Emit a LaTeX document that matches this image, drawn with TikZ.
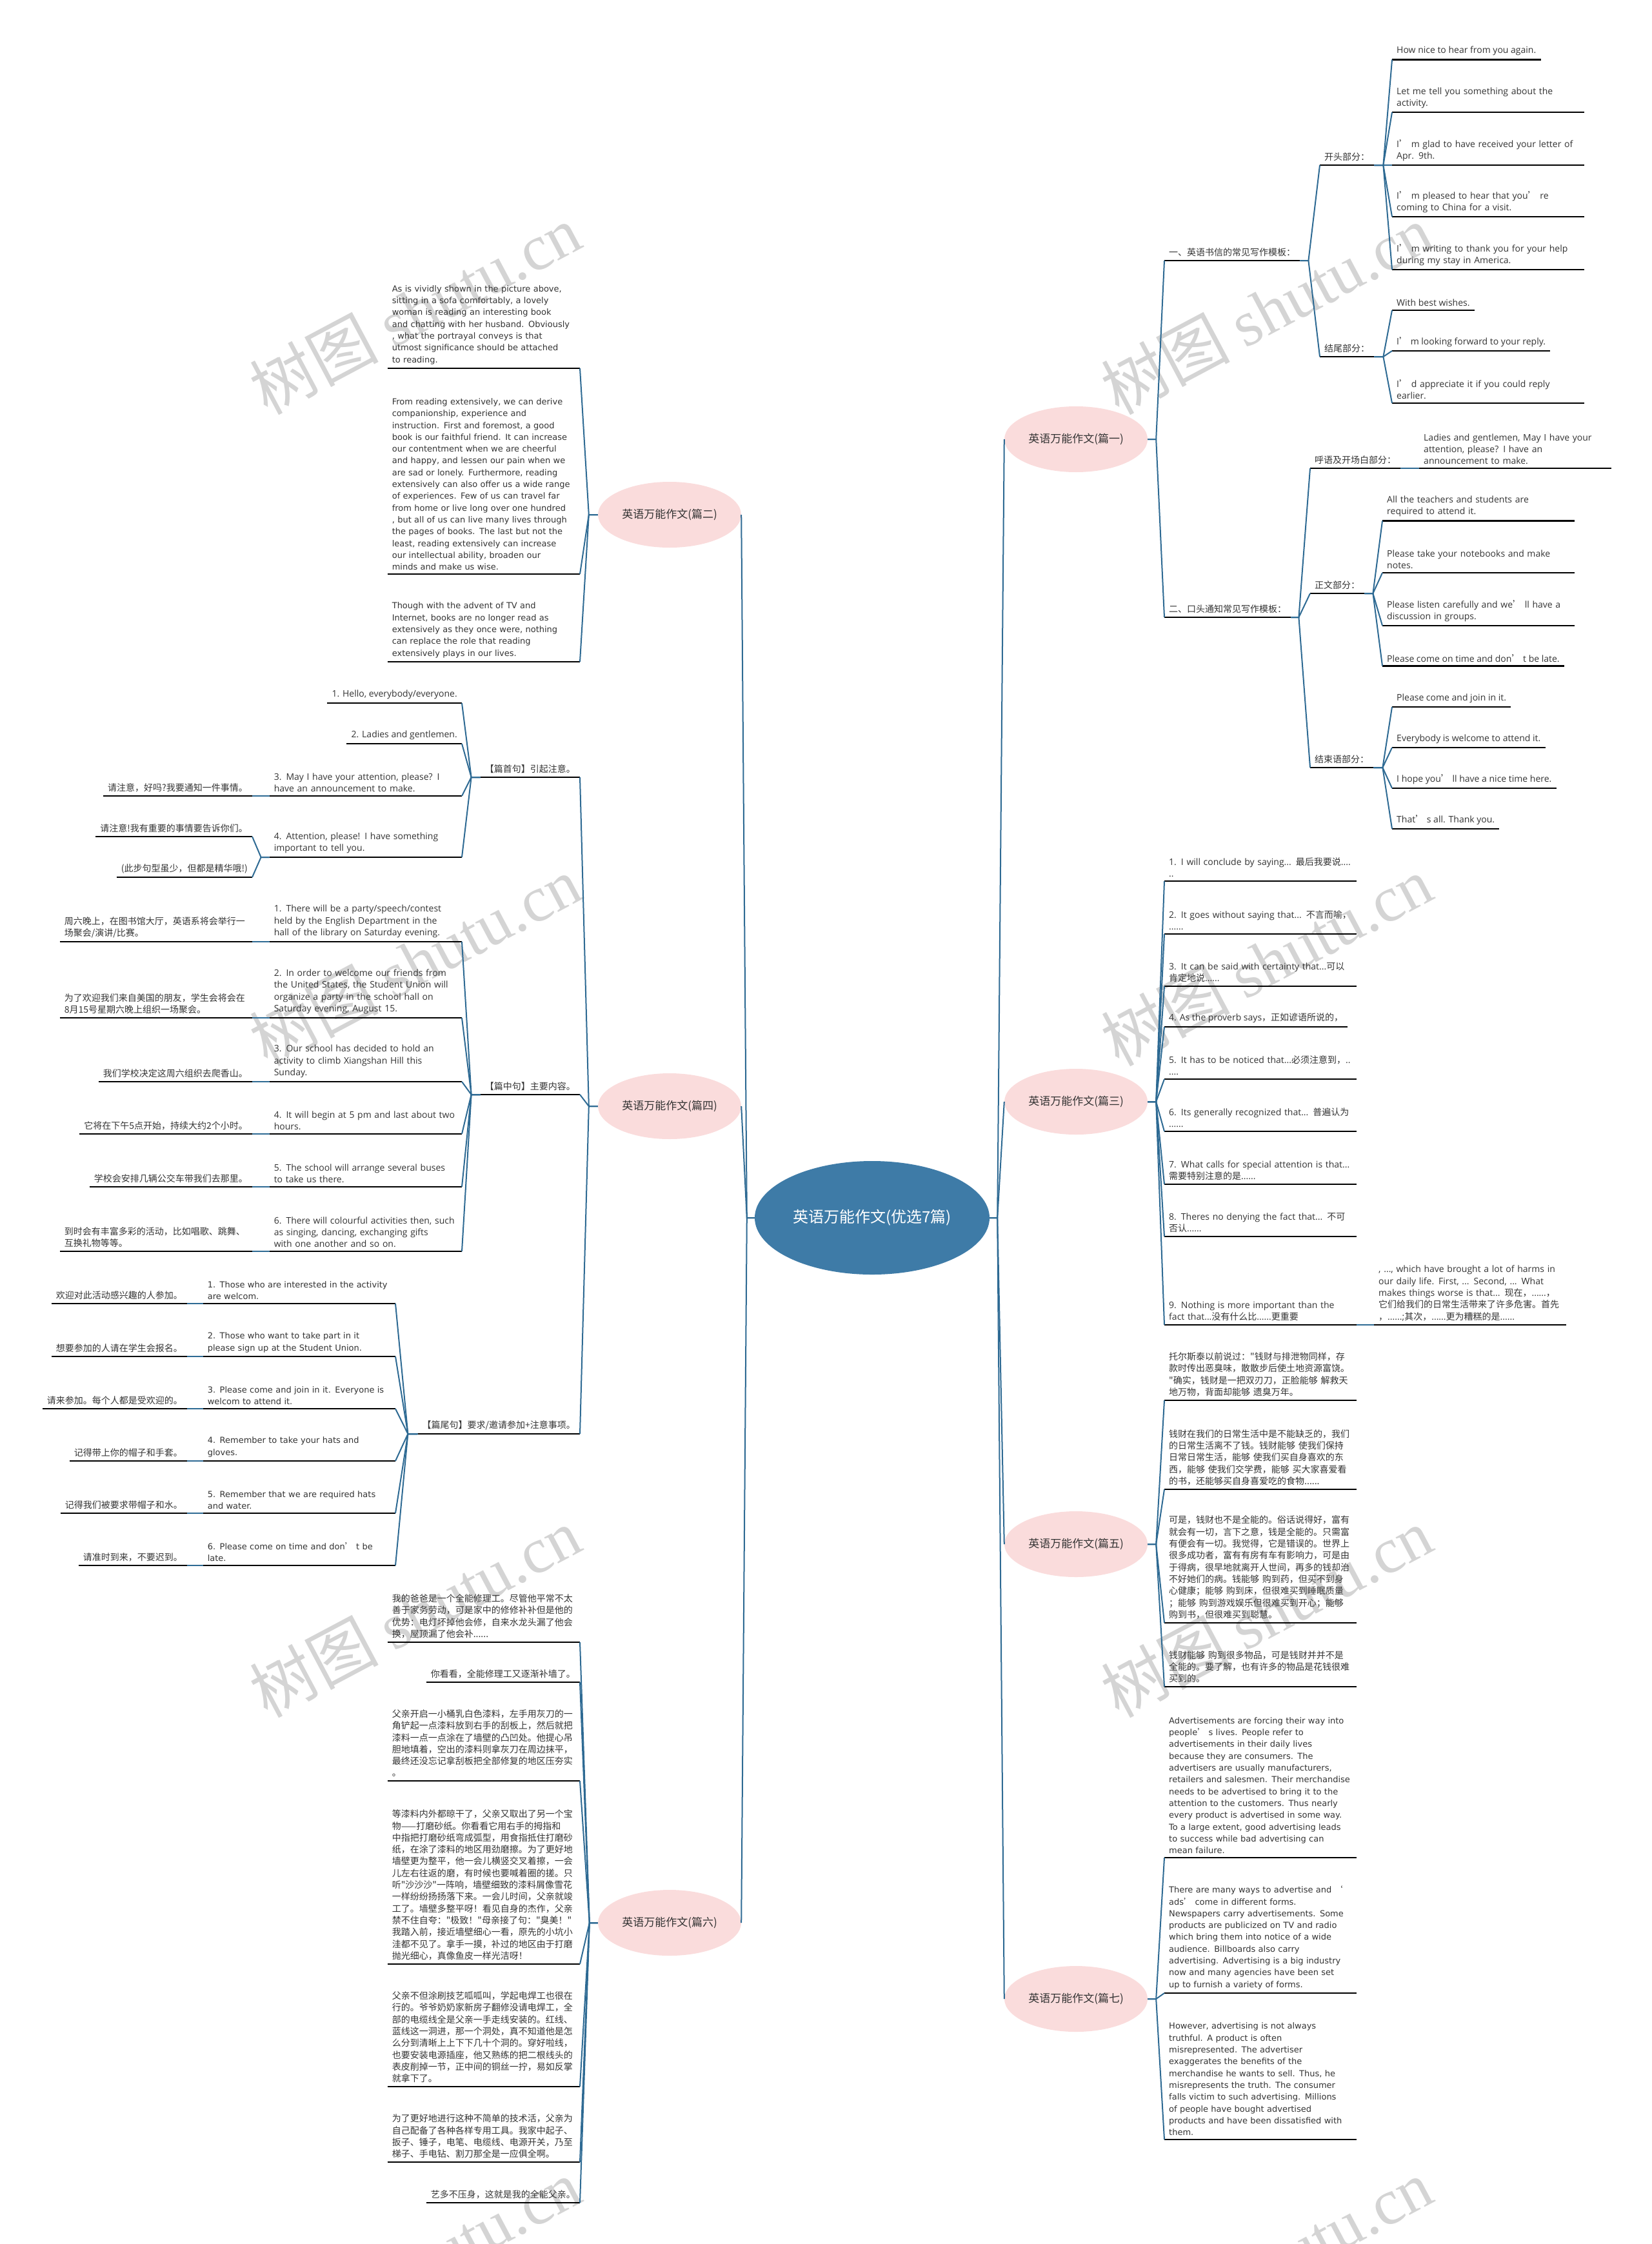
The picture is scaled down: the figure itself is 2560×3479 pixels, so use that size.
\documentclass[tikz,border=0pt]{standalone}
\usepackage{fontspec}
\usepackage{tikz}
\usetikzlibrary{shapes.geometric}
\setmainfont{Noto Sans CJK SC}
\newfontfamily\zhfont{Noto Sans CJK SC}
\newfontfamily\enfont{Open Sans}
\newfontfamily\widefont{DejaVu Sans}
\newfontfamily\wmfont{Liberation Serif}
\definecolor{linkblue}{HTML}{2E6A93}
\definecolor{rootblue}{HTML}{3E7BA7}
\definecolor{petal}{HTML}{FADCDC}
\definecolor{inkgray}{HTML}{333333}
\definecolor{wmgray}{HTML}{D4D4D4}
\newcommand\leafsize{\fontsize{14pt}{18.3pt}\selectfont}
\newcommand\zh[1]{{\zhfont #1}}
\newcommand\apos{{\zhfont ’}}

\begin{document}
\begin{tikzpicture}[
    x=1pt, y=-1pt,
    root/.style={ellipse, fill=rootblue, text=white, minimum width=364pt,
                 minimum height=176pt, inner sep=0pt,
                 font=\zhfont\fontsize{24pt}{28pt}\selectfont},
    branch/.style={ellipse, fill=petal, text=inkgray, minimum width=222pt,
                   minimum height=102pt, inner sep=0pt,
                   font=\zhfont\fontsize{17pt}{20pt}\selectfont},
    leaf/.style={align=left, inner xsep=7pt, inner ysep=6pt, text=inkgray,
                 font=\zhfont\leafsize,
                 append after command={\pgfextra{\draw[black, line width=2.4pt]
                   (\tikzlastnode.south west) -- (\tikzlastnode.south east);}}},
    rleaf/.style={leaf, anchor=south west},
    lleaf/.style={leaf, anchor=south east},
    wraptext/.style={text width=284pt},
    entext/.style={font=\enfont\leafsize},
    widetext/.style={font=\widefont\fontsize{13pt}{18.3pt}\selectfont},
    link/.style={draw=linkblue, line width=2pt},
    wmark/.style={text=wmgray, rotate=28, font=\zhfont\fontsize{100pt}{110pt}\selectfont},
  ]

  \useasboundingbox (0,0) rectangle (2560,3479);

  \foreach \wx/\wy [count=\k] in {643/480, 643/1490, 643/2500, 643/3510,
                                  1963/480, 1963/1490, 1963/2500, 1963/3510}
    \node[wmark] (wm\k) at (\wx,\wy) {树图 {\wmfont shutu.cn}};

  \node[root] (root) at (1352,1888) {英语万能作文(优选7篇)};
  \node[branch] (p1) at (1668,681) {英语万能作文(篇一)};
  \node[branch] (p2) at (1038,798) {英语万能作文(篇二)};
  \node[branch] (p3) at (1668,1708) {英语万能作文(篇三)};
  \node[branch] (p4) at (1038,1715) {英语万能作文(篇四)};
  \node[branch] (p5) at (1668,2394) {英语万能作文(篇五)};
  \node[branch] (p6) at (1038,2981) {英语万能作文(篇六)};
  \node[branch] (p7) at (1668,3099) {英语万能作文(篇七)};

  % pian yi
  \node[rleaf] (r1) at (1805,404) {一、英语书信的常见写作模板：};
  \node[rleaf] (r2) at (1805,957) {二、口头通知常见写作模板：};
  \node[rleaf] (r1a) at (2046,256) {开头部分：};
  \node[rleaf] (r1b) at (2046,553) {结尾部分：};
  \node[rleaf] (r2a) at (2031,726) {呼语及开场白部分：};
  \node[rleaf] (r2b) at (2031,920) {正文部分：};
  \node[rleaf] (r2c) at (2031,1190) {结束语部分：};

  \node[rleaf, entext] (o1) at (2158,92.5) {How nice to hear from you again.};
  \node[rleaf, entext, wraptext] (o2) at (2158,174) {Let me tell you something about the\\activity.};
  \node[rleaf, entext, wraptext] (o3) at (2158,256) {I\apos\ m glad to have received your letter of\\Apr. 9th.};
  \node[rleaf, entext, wraptext] (o4) at (2158,336) {I\apos\ m pleased to hear that you\apos\ re\\coming to China for a visit.};
  \node[rleaf, entext, wraptext] (o5) at (2158,418) {I\apos\ m writing to thank you for your help\\during my stay in America.};
  \node[rleaf, entext] (e1) at (2158,481) {With best wishes.};
  \node[rleaf, entext] (e2) at (2158,544) {I\apos\ m looking forward to your reply.};
  \node[rleaf, entext, wraptext] (e3) at (2158,625) {I\apos\ d appreciate it if you could reply\\earlier.};

  \node[rleaf, entext, wraptext] (h1) at (2200,726) {Ladies and gentlemen, May I have your\\attention, please? I have an\\announcement to make.};
  \node[rleaf, entext, wraptext] (z1) at (2143,807.5) {All the teachers and students are\\required to attend it.};
  \node[rleaf, entext, wraptext] (z2) at (2143,888) {Please take your notebooks and make\\notes.};
  \node[rleaf, entext, wraptext] (z3) at (2143,970) {Please listen carefully and we\apos\ ll have a\\discussion in groups.};
  \node[rleaf, entext] (z4) at (2143,1032.5) {Please come on time and don\apos\ t be late.};
  \node[rleaf, entext] (j1) at (2158,1096) {Please come and join in it.};
  \node[rleaf, entext] (j2) at (2158,1159) {Everybody is welcome to attend it.};
  \node[rleaf, entext] (j3) at (2158,1222) {I hope you\apos\ ll have a nice time here.};
  \node[rleaf, entext] (j4) at (2158,1285) {That\apos\ s all. Thank you.};

  % pian san
  \node[rleaf, entext, wraptext] (s1) at (1805,1366) {1. I will conclude by saying... \zh{最后我要说}....\\..};
  \node[rleaf, entext, wraptext] (s2) at (1805,1448) {2. It goes without saying that... \zh{不言而喻，}\\......};
  \node[rleaf, entext, wraptext] (s3) at (1805,1529) {3. It can be said with certainty that...\zh{可以}\\\zh{肯定地说}......};
  \node[rleaf, entext] (s4) at (1805,1592) {4. As the proverb says\zh{，正如谚语所说的，}};
  \node[rleaf, entext, wraptext] (s5) at (1805,1673) {5. It has to be noticed that...\zh{必须注意到，}..\\....};
  \node[rleaf, entext, wraptext] (s6) at (1805,1754) {6. Its generally recognized that... \zh{普遍认为}\\......};
  \node[rleaf, entext, wraptext] (s7) at (1805,1836) {7. What calls for special attention is that...\\\zh{需要特别注意的是}......};
  \node[rleaf, entext, wraptext] (s8) at (1805,1917) {8. Theres no denying the fact that... \zh{不可}\\\zh{否认}......};
  \node[rleaf, entext, wraptext] (s9) at (1805,2054) {9. Nothing is more important than the\\fact that...\zh{没有什么比}......\zh{更重要}};
  \node[rleaf, entext, wraptext] (s9a) at (2130,2054) {, ..., which have brought a lot of harms in\\our daily life. First, ... Second, ... What\\makes things worse is that... \zh{现在，}......\zh{，}\\\zh{它们给我们的日常生活带来了许多危害。首先}\\\zh{，}......;\zh{其次，}......\zh{更为糟糕的是}......};

  % pian wu
  \node[rleaf, wraptext] (g1) at (1805,2171) {托尔斯泰以前说过："钱财与排泄物同样，存\\款时传出恶臭味，散散步后使土地资源富饶。\\"确实，钱财是一把双刃刀，正脸能够 解救天\\地万物，背面却能够 遗臭万年。};
  \node[rleaf, wraptext] (g2) at (1805,2309) {钱财在我们的日常生活中是不能缺乏的，我们\\的日常生活离不了钱。钱财能够 使我们保持\\日常日常生活，能够 使我们买自身喜欢的东\\西，能够 使我们交学费，能够 买大家喜爱看\\的书，还能够买自身喜爱吃的食物......};
  \node[rleaf, wraptext] (g3) at (1805,2516) {可是，钱财也不是全能的。俗话说得好，富有\\就会有一切，言下之意，钱是全能的。只需富\\有便会有一切。我觉得，它是错误的。世界上\\很多成功者，富有有房有车有影响力，可是由\\于得病，很早地就离开人世间，再多的钱却治\\不好她们的病。钱能够 购到药，但买不到身\\心健康；能够 购到床，但很难买到睡眠质量\\；能够 购到游戏娱乐但很难买到开心；能够\\购到书，但很难买到聪慧。};
  \node[rleaf, wraptext] (g4) at (1805,2615) {钱财能够 购到很多物品，可是钱财并并不是\\全能的。要了解，也有许多的物品是花钱很难\\买到的。};

  % pian qi
  \node[rleaf, widetext, wraptext] (v1) at (1805,2880) {Advertisements are forcing their way into\\people\apos\ s lives. People refer to\\advertisements in their daily lives\\because they are consumers. The\\advertisers are usually manufacturers,\\retailers and salesmen. Their merchandise\\needs to be advertised to bring it to the\\attention to the customers. Thus nearly\\every product is advertised in some way.\\To a large extent, good advertising leads\\to success while bad advertising can\\mean failure.};
  \node[rleaf, widetext, wraptext] (v2) at (1805,3090) {There are many ways to advertise and \zh{‘}\\ads\apos\ come in different forms.\\Newspapers carry advertisements. Some\\products are publicized on TV and radio\\which bring them into notice of a wide\\audience. Billboards also carry\\advertising. Advertising is a big industry\\now and many agencies have been set\\up to furnish a variety of forms.};
  \node[rleaf, widetext, wraptext] (v3) at (1805,3317) {However, advertising is not always\\truthful. A product is often\\misrepresented. The advertiser\\exaggerates the benefits of the\\merchandise he wants to sell. Thus, he\\misrepresents the truth. The consumer\\falls victim to such advertising. Millions\\of people have bought advertised\\products and have been dissatisfied with\\them.};

  % pian er
  \node[lleaf, widetext, wraptext] (w1) at (899,571) {As is vividly shown in the picture above,\\sitting in a sofa comfortably, a lovely\\woman is reading an interesting book\\and chatting with her husband. Obviously\\, what the portrayal conveys is that\\utmost significance should be attached\\to reading.};
  \node[lleaf, widetext, wraptext] (w2) at (899,890) {From reading extensively, we can derive\\companionship, experience and\\instruction. First and foremost, a good\\book is our faithful friend. It can increase\\our contentment when we are cheerful\\and happy, and lessen our pain when we\\are sad or lonely. Furthermore, reading\\extensively can also offer us a wide range\\of experiences. Few of us can travel far\\from home or live long over one hundred\\, but all of us can live many lives through\\the pages of books. The last but not the\\least, reading extensively can increase\\our intellectual ability, broaden our\\minds and make us wise.};
  \node[lleaf, widetext, wraptext] (w3) at (899,1026) {Though with the advent of TV and\\Internet, books are no longer read as\\extensively as they once were, nothing\\can replace the role that reading\\extensively plays in our lives.};

  % pian si
  \node[lleaf] (m4a) at (899,1205) {【篇首句】引起注意。};
  \node[lleaf] (m4b) at (899,1697) {【篇中句】主要内容。};
  \node[lleaf] (m4c) at (899,2223) {【篇尾句】要求/邀请参加+注意事项。};

  \node[lleaf, entext] (a1) at (716,1090) {1. Hello, everybody/everyone.};
  \node[lleaf, entext] (a2) at (716,1153) {2. Ladies and gentlemen.};
  \node[lleaf, entext, wraptext] (a3) at (716,1234) {3. May I have your attention, please? I\\have an announcement to make.};
  \node[lleaf, entext, wraptext] (a4) at (716,1329) {4. Attention, please! I have something\\important to tell you.};
  \node[lleaf] (a3z) at (391,1234) {请注意，好吗?我要通知一件事情。};
  \node[lleaf] (a4z) at (391,1297) {请注意!我有重要的事情要告诉你们。};
  \node[lleaf] (a4y) at (391,1360) {(此步句型虽少，但都是精华哦!)};

  \node[lleaf, entext, wraptext] (b1) at (716,1460) {1. There will be a party/speech/contest\\held by the English Department in the\\hall of the library on Saturday evening.};
  \node[lleaf, entext, wraptext] (b2) at (716,1578) {2. In order to welcome our friends from\\the United States, the Student Union will\\organize a party in the school hall on\\Saturday evening, August 15.};
  \node[lleaf, entext, wraptext] (b3) at (716,1677) {3. Our school has decided to hold an\\activity to climb Xiangshan Hill this\\Sunday.};
  \node[lleaf, entext, wraptext] (b4) at (716,1758) {4. It will begin at 5 pm and last about two\\hours.};
  \node[lleaf, entext, wraptext] (b5) at (716,1840) {5. The school will arrange several buses\\to take us there.};
  \node[lleaf, entext, wraptext] (b6) at (716,1940) {6. There will colourful activities then, such\\as singing, dancing, exchanging gifts\\with one another and so on.};
  \node[lleaf, wraptext] (bz1) at (391,1460) {周六晚上，在图书馆大厅，英语系将会举行一\\场聚会/演讲/比赛。};
  \node[lleaf, wraptext] (bz2) at (391,1578) {为了欢迎我们来自美国的朋友，学生会将会在\\8月15号星期六晚上组织一场聚会。};
  \node[lleaf] (bz3) at (391,1677) {我们学校决定这周六组织去爬香山。};
  \node[lleaf] (bz4) at (391,1758) {它将在下午5点开始，持续大约2个小时。};
  \node[lleaf] (bz5) at (391,1840) {学校会安排几辆公交车带我们去那里。};
  \node[lleaf, wraptext] (bz6) at (391,1940) {到时会有丰富多彩的活动，比如唱歌、跳舞、\\互换礼物等等。};

  \node[lleaf, widetext, wraptext] (c1) at (613,2021) {1. Those who are interested in the activity\\are welcom.};
  \node[lleaf, widetext, wraptext] (c2) at (613,2103) {2. Those who want to take part in it\\please sign up at the Student Union.};
  \node[lleaf, widetext, wraptext] (c3) at (613,2184) {3. Please come and join in it. Everyone is\\welcom to attend it.};
  \node[lleaf, widetext, wraptext] (c4) at (613,2265) {4. Remember to take your hats and\\gloves.};
  \node[lleaf, widetext, wraptext] (c5) at (613,2346) {5. Remember that we are required hats\\and water.};
  \node[lleaf, widetext, wraptext] (c6) at (613,2427) {6. Please come on time and don\apos\ t be\\late.};
  \node[lleaf] (cz1) at (290,2021) {欢迎对此活动感兴趣的人参加。};
  \node[lleaf] (cz2) at (290,2103) {想要参加的人请在学生会报名。};
  \node[lleaf] (cz3) at (290,2184) {请来参加。每个人都是受欢迎的。};
  \node[lleaf] (cz4) at (290,2265) {记得带上你的帽子和手套。};
  \node[lleaf] (cz5) at (290,2346) {记得我们被要求带帽子和水。};
  \node[lleaf] (cz6) at (290,2427) {请准时到来，不要迟到。};

  % pian liu
  \node[lleaf, wraptext] (f1) at (899,2546) {我的爸爸是一个全能修理工。尽管他平常不太\\善于家务劳动，可是家中的修修补补但是他的\\优势：电灯坏掉他会修，自来水龙头漏了他会\\换，屋顶漏了他会补......};
  \node[lleaf] (f2) at (899,2608) {你看看，全能修理工又逐渐补墙了。};
  \node[lleaf, wraptext] (f3) at (899,2761) {父亲开启一小桶乳白色漆料，左手用灰刀的一\\角铲起一点漆料放到右手的刮板上，然后就把\\漆料一点一点涂在了墙壁的凸凹处。他提心吊\\胆地填着，空出的漆料则拿灰刀在周边抹平，\\最终还没忘记拿刮板把全部修复的地区压夯实\\。};
  \node[lleaf, wraptext] (f4) at (899,3045) {等漆料内外都晾干了，父亲又取出了另一个宝\\物——打磨砂纸。你看看它用右手的拇指和\\中指把打磨砂纸弯成弧型，用食指抵住打磨砂\\纸，在涂了漆料的地区用劲磨擦。为了更好地\\墙壁更为整平，他一会儿横竖交叉着擦，一会\\儿左右往返的磨，有时候也要喊着圈的搓。只\\听"沙沙沙"一阵响，墙壁细致的漆料屑像雪花\\一样纷纷扬扬落下来。一会儿时间，父亲就竣\\工了。墙壁多整平呀！看见自身的杰作，父亲\\禁不住自夸："极致！"母亲接了句："臭美！"\\我踏入前，接近墙壁细心一看，原先的小坑小\\洼都不见了。拿手一摸，补过的地区由于打磨\\抛光细心，真像鱼皮一样光洁呀！};
  \node[lleaf, wraptext] (f5) at (899,3235) {父亲不但涂刷技艺呱呱叫，学起电焊工也很在\\行的。爷爷奶奶家新房子翻修没请电焊工，全\\部的电缆线全是父亲一手走线安装的。红线、\\蓝线这一洞进，那一个洞处，真不知道他是怎\\么分到清晰上上下下几十个洞的。穿好啦线，\\也要安装电源插座，他又熟练的把二根线头的\\表皮削掉一节，正中间的铜丝一拧，易如反掌\\就拿下了。};
  \node[lleaf, wraptext] (f6) at (899,3352) {为了更好地进行这种不简单的技术活，父亲为\\自己配备了各种各样专用工具。我家中起子、\\扳子、锤子，电笔、电缆线、电源开关，乃至\\梯子、手电钻、割刀那全是一应俱全啊。};
  \node[lleaf] (f7) at (899,3415) {艺多不压身，这就是我的全能父亲。};

  % connectors
  \foreach \n in {2,4,6}
    \draw[link] (root.west) -- ++(-12,0) -- (p\n.east);
  \foreach \n in {1,3,5,7}
    \draw[link] (root.east) -- ++(12,0) -- (p\n.west);

  \foreach \n in {r1,r2}
    \draw[link] (p1.east) -- ++(13,0) -- (\n.south west);
  \foreach \n in {r1a,r1b}
    \draw[link] (r1.south east) -- ++(13,0) -- (\n.south west);
  \foreach \n in {o1,o2,o3,o4,o5}
    \draw[link] (r1a.south east) -- ++(14,0) -- (\n.south west);
  \foreach \n in {e1,e2,e3}
    \draw[link] (r1b.south east) -- ++(14,0) -- (\n.south west);
  \foreach \n in {r2a,r2b,r2c}
    \draw[link] (r2.south east) -- ++(12,0) -- (\n.south west);
  \draw[link] (r2a.south east) -- (h1.south west);
  \foreach \n in {z1,z2,z3,z4}
    \draw[link] (r2b.south east) -- ++(13,0) -- (\n.south west);
  \foreach \n in {j1,j2,j3,j4}
    \draw[link] (r2c.south east) -- ++(14,0) -- (\n.south west);

  \foreach \n in {s1,s2,s3,s4,s5,s6,s7,s8,s9}
    \draw[link] (p3.east) -- ++(13,0) -- (\n.south west);
  \draw[link] (s9.south east) -- (s9a.south west);
  \foreach \n in {g1,g2,g3,g4}
    \draw[link] (p5.east) -- ++(13,0) -- (\n.south west);
  \foreach \n in {v1,v2,v3}
    \draw[link] (p7.east) -- ++(13,0) -- (\n.south west);

  \foreach \n in {w1,w2,w3}
    \draw[link] (p2.west) -- ++(-14,0) -- (\n.south east);
  \foreach \n in {m4a,m4b,m4c}
    \draw[link] (p4.west) -- ++(-14,0) -- (\n.south east);
  \foreach \n in {a1,a2,a3,a4}
    \draw[link] (m4a.south west) -- ++(-14,0) -- (\n.south east);
  \draw[link] (a3.south west) -- (a3z.south east);
  \foreach \n in {a4z,a4y}
    \draw[link] (a4.south west) -- ++(-13,0) -- (\n.south east);
  \foreach \n in {1,...,6} {
    \draw[link] (m4b.south west) -- ++(-14,0) -- (b\n.south east);
    \draw[link] (b\n.south west) -- (bz\n.south east);
    \draw[link] (m4c.south west) -- ++(-15,0) -- (c\n.south east);
    \draw[link] (c\n.south west) -- (cz\n.south east);
  }
  \foreach \n in {f1,f2,f3,f4,f5,f6,f7}
    \draw[link] (p6.west) -- ++(-13,0) -- (\n.south east);
\end{tikzpicture}
\end{document}
